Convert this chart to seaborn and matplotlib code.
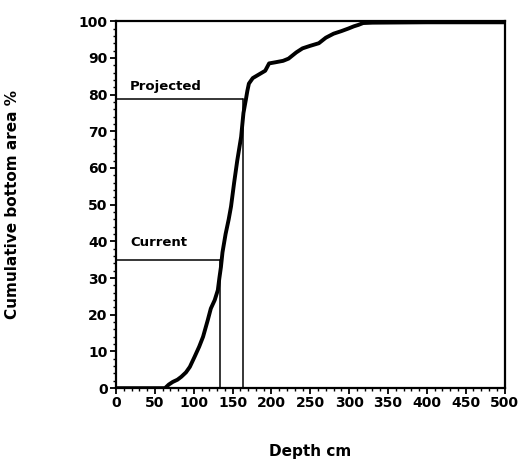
import matplotlib
matplotlib.use("Agg")
import matplotlib.pyplot as plt
import seaborn as sns
import pandas as pd
from matplotlib.ticker import MultipleLocator

depth = [0, 63, 68, 73, 79, 84, 90, 95, 101, 107, 112, 118, 122, 127, 131, 133,
         135, 137, 141, 145, 148, 152, 156, 161, 164, 167, 169, 171, 176, 184,
         192, 197, 205, 215, 222, 232, 240, 250, 261, 270, 280, 290, 299, 306,
         312, 318, 330, 400, 500]
cum_area = [0, 0, 1, 1.7, 2.3, 3.1, 4.3, 5.8, 8.5, 11.3, 14, 18.5, 21.7, 24,
            26.7, 30, 33, 37, 42, 46, 49.5, 56, 62, 68.5, 75, 78.5, 81, 83, 84.5,
            85.5, 86.5, 88.5, 88.8, 89.2, 89.8, 91.5, 92.6, 93.3, 94, 95.5, 96.6,
            97.3, 98, 98.6, 99, 99.5, 99.6, 99.7, 99.7]

ref_labels = ["Current", "Projected"]
ref_depth = [134, 164]
ref_area = [35, 78.7]
ref_text_y = [38, 80.5]

sns.set_style("ticks")
plt.rcParams["font.family"] = ["DejaVu Sans"]
plt.rcParams["font.weight"] = "bold"
plt.rcParams["text.color"] = "black"
plt.rcParams["axes.labelcolor"] = "black"
plt.rcParams["xtick.color"] = "black"
plt.rcParams["ytick.color"] = "black"

fig = plt.figure(figsize=(5.18, 4.61), dpi=100)
ax = fig.add_axes([0.224, 0.158, 0.75, 0.796])

df = pd.DataFrame({"depth": depth, "cum": cum_area})
sns.lineplot(data=df, x="depth", y="cum", ax=ax, color="black", linewidth=2.8,
             estimator=None, sort=False)

for lab, xd, yd, ty in zip(ref_labels, ref_depth, ref_area, ref_text_y):
    ax.plot([0, xd], [yd, yd], color="black", lw=1.1)
    ax.plot([xd, xd], [0, yd], color="black", lw=1.1)
    ax.text(18, ty, lab, fontsize=9.5, fontweight="bold", ha="left", va="bottom",
            color="black")

ax.set_xlim(0, 500)
ax.set_ylim(0, 100)
ax.xaxis.set_major_locator(MultipleLocator(50))
ax.xaxis.set_minor_locator(MultipleLocator(10))
ax.yaxis.set_major_locator(MultipleLocator(10))
ax.yaxis.set_minor_locator(MultipleLocator(2))
ax.tick_params(which="major", length=4, width=1.3, labelsize=10, pad=2,
               color="black", labelcolor="black")
ax.tick_params(which="minor", length=2.5, width=1.0, color="black")
for lbl in ax.get_xticklabels() + ax.get_yticklabels():
    lbl.set_fontweight("bold")
for s in ax.spines.values():
    s.set_visible(True)
    s.set_linewidth(1.6)
    s.set_color("black")

ax.set_xlabel("Depth cm", fontsize=11, fontweight="bold", labelpad=24)
ax.set_ylabel("Cumulative bottom area %", fontsize=11, fontweight="bold", labelpad=42)

fig.savefig("out.png", dpi=100)
